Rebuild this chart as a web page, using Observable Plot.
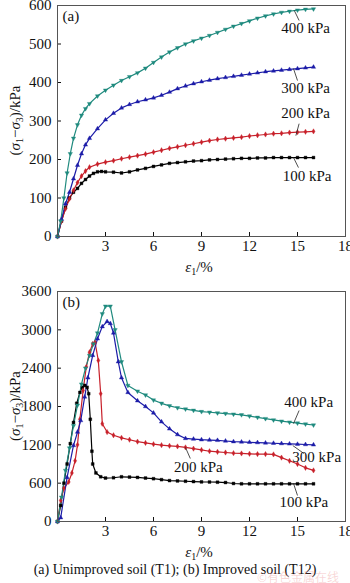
<!DOCTYPE html>
<html>
<head>
<meta charset="utf-8">
<script src="https://cdn.jsdelivr.net/npm/d3@7"></script>
<script src="https://cdn.jsdelivr.net/npm/@observablehq/plot@0.6"></script>
<style>
  body { margin: 0; background: #fff; }
  #wrap { position: relative; width: 350px; height: 583px; overflow: hidden; background: #fff; }
  #wrap svg { display: block; }
  #caption { position: absolute; left: 0; top: 562px; width: 350px; text-align: center;
    font-family: 'Liberation Serif', serif; font-size: 14px; color: #111; line-height: 16px; }
  #mark { position: absolute; left: 257px; top: 571px; font-family: 'Noto Sans CJK SC', sans-serif;
    font-size: 12px; color: rgba(225, 90, 90, 0.25); line-height: 12px; }
</style>
</head>
<body>
<div id="wrap"></div>
<script>
// ---------- data ----------
const pressures = ["100 kPa", "200 kPa", "300 kPa", "400 kPa"];
const colors = ["#000000", "#c8202a", "#1c1ca8", "#1f8a7e"];
const symbolRange = ["square", "diamond", "triangle", "triangle"];
const xTicks = [0, 3, 6, 9, 12, 15, 18];
const yTicksA = [0, 100, 200, 300, 400, 500, 600];
const yTicksB = [0, 600, 1200, 1800, 2400, 3000, 3600];

// Panel (a): unimproved soil
const a400x = [0,0.2,0.4,0.6,0.8,1,1.25,1.5,1.75,2,2.5,3,3.5,4,4.5,5,5.5,6,6.5,7,7.5,8,8.5,9,9.5,10,10.5,11,11.5,12,12.5,13,13.5,14,14.5,15,15.5,16];
const a400y = [0,40,100,165,215,255,290,315,332,345,365,380,393,405,415,425,437,452,466,479,490,500,508,515,522,530,538,546,553,560,567,573,578,582,585,588,590,591];
const a300x = [0,0.25,0.5,0.75,1,1.25,1.5,1.75,2,2.5,3,3.5,4,4.5,5,5.5,6,6.5,7,7.5,8,8.5,9,9.5,10,10.5,11,11.5,12,12.5,13,13.5,14,14.5,15,15.5,16];
const a300y = [0,45,85,115,150,185,215,238,255,280,303,320,334,343,350,355,360,367,375,384,391,397,402,406,410,413,416,419,422,425,428,430,432,434,436,438,440];
const a200x = [0,0.25,0.5,0.75,1,1.25,1.5,1.75,2,2.5,3,3.5,4,4.5,5,5.5,6,6.5,7,7.5,8,8.5,9,9.5,10,10.5,11,11.5,12,12.5,13,13.5,14,14.5,15,15.5,16];
const a200y = [0,40,72,98,120,140,157,170,180,188,193,197,202,206,210,214,219,224,229,233,237,241,245,249,252,254,256,258,261,263,265,267,268,270,271,272,273];
const a100x = [0,0.25,0.5,0.75,1,1.25,1.5,1.75,2,2.25,2.5,2.75,3,3.5,4,4.5,5,5.5,6,6.5,7,7.5,8,8.5,9,9.5,10,10.5,11,11.5,12,12.5,13,13.5,14,14.5,15,15.5,16];
const a100y = [0,40,75,100,115,125,138,148,157,164,168,169,168,167,165,168,173,177,182,186,190,192,194,196,197,199,200,201,202,203,203,204,204,205,205,205,205,205,205];

// Panel (b): improved soil
const b400x = [0,0.25,0.5,0.75,1,1.25,1.5,1.75,2,2.25,2.5,2.8,3,3.3,3.6,4,4.4,5,5.5,6,6.5,7,7.5,8,8.5,9,9.5,10,10.5,11,11.5,12,12.5,13,13.5,14,14.5,15,15.5,16];
const b400y = [0,380,800,1150,1500,1820,2150,2400,2600,2780,2950,3250,3370,3370,3000,2500,2130,2040,1980,1900,1850,1810,1780,1760,1740,1720,1710,1700,1690,1680,1670,1650,1630,1610,1590,1570,1555,1540,1525,1510];
const b300x = [0,0.2,0.6,1,1.25,1.45,1.7,1.9,2.2,2.5,2.8,3.1,3.3,3.5,3.8,4,4.4,5,5.5,6,6.5,7,7.5,8,8.5,9,9.5,10,10.5,11,11.5,12,12.5,13,13.5,14,14.5,15,15.5,16];
const b300y = [0,60,690,1190,1400,1580,1950,2250,2600,2860,3050,3130,3100,2950,2500,2250,2020,1890,1800,1700,1560,1450,1360,1300,1290,1280,1275,1270,1260,1250,1245,1240,1235,1230,1225,1220,1215,1210,1205,1200];
const b200x = [0,0.2,0.4,0.7,0.9,1.1,1.25,1.4,1.6,1.8,2,2.2,2.35,2.55,2.7,2.8,3.1,3.5,4,4.5,5,5.5,6,6.5,7,7.5,8,8.5,9,9.5,10,10.5,11,11.5,12,12.5,13,13.5,14,14.5,15,15.5,16];
const b200y = [0,330,520,620,760,950,1200,1600,2050,2420,2650,2780,2800,2520,2000,1530,1400,1350,1310,1280,1250,1230,1210,1195,1185,1175,1160,1140,1120,1100,1090,1080,1070,1065,1060,1055,1055,1050,1000,950,900,840,800];
const b100x = [0,0.2,0.4,0.6,0.8,1,1.2,1.4,1.55,1.7,1.85,1.95,2.05,2.15,2.2,2.4,2.7,3,3.5,4,4.5,5,5.5,6,6.5,7,7.5,8,8.5,9,9.5,10,10.5,11,11.5,12,12.5,13,13.5,14,14.5,15,15.5,16];
const b100y = [0,250,600,900,1220,1550,1850,2020,2100,2130,2100,2000,1600,1100,900,760,700,680,685,700,695,690,680,670,655,640,635,630,625,620,618,615,610,595,590,590,590,590,590,590,590,590,590,590];

// Annotation labels and leader lines (data units)
const labelTextA = ["400 kPa", "300 kPa", "200 kPa", "100 kPa"];
const labelXA = [15.5, 15.5, 15.5, 15.6];
const labelYA = [540, 384, 319, 156];
const leaderA = { x1: [14.8, 14.75, 14.9, 14.75], y1: [587, 436, 262, 205], x2: [15.1, 15.0, 15.1, 15.06], y2: [561, 405, 293, 179] };

const labelTextB = ["400 kPa", "300 kPa", "200 kPa", "100 kPa"];
const labelXB = [15.7, 16.2, 8.8, 15.4];
const labelYB = [1862, 1000, 845, 300];
const leaderB = { x1: [14.75, 14.7, 8.0, 14.75], y1: [1533, 1190, 1158, 595], x2: [15.1, 15.4, 8.3, 15.0], y2: [1737, 1064, 986, 407] };

// ---------- helpers ----------
function series(xs, ys, p) { return xs.map((x, i) => ({ x, y: ys[i], p })); }
function labels(texts, xs, ys) { return texts.map((t, i) => ({ t, x: xs[i], y: ys[i] })); }
function leaders(L) { return L.x1.map((_, i) => ({ x1: L.x1[i], y1: L.y1[i], x2: L.x2[i], y2: L.y2[i] })); }

const dataA = [].concat(series(a100x, a100y, "100 kPa"), series(a200x, a200y, "200 kPa"), series(a300x, a300y, "300 kPa"), series(a400x, a400y, "400 kPa"));
const dataB = [].concat(series(b100x, b100y, "100 kPa"), series(b200x, b200y, "200 kPa"), series(b300x, b300y, "300 kPa"), series(b400x, b400y, "400 kPa"));

const FONT = "'Liberation Serif', 'Times New Roman', serif";
const FS = 15;

function panel(data, yDomain, yTicks, labs, leads, tag, height, mt, mb) {
  const svg = Plot.plot({
    width: 350, height, marginTop: mt, marginBottom: mb, marginLeft: 57, marginRight: 5,
    style: { fontFamily: FONT, fontSize: FS + "px", background: "white", color: "#111", overflow: "visible" },
    x: { domain: [0, 18] },
    y: { domain: yDomain },
    color: { domain: pressures, range: colors },
    symbol: { domain: pressures, range: symbolRange },
    marks: [
      Plot.axisX({ ticks: xTicks.filter(t => t > 0), tickSize: 0, tickPadding: 4, tickFormat: d3.format("d"), label: null, fontSize: FS }),
      Plot.axisX({ ticks: xTicks, tickSize: -4, tickFormat: () => "", label: null }),
      Plot.axisY({ ticks: yTicks, tickSize: 0, tickPadding: 6, tickFormat: d3.format("d"), label: null, fontSize: FS }),
      Plot.axisY({ ticks: yTicks, tickSize: -4, tickFormat: () => "", label: null }),
      Plot.line(data, { x: "x", y: "y", z: "p", stroke: "p", strokeWidth: 1.2 }),
      Plot.dot(data, { x: "x", y: "y", fill: "p", stroke: "p", strokeWidth: 0.4, symbol: "p", r: 1.6,
        rotate: d => d.p === "400 kPa" ? 180 : 0 }),
      Plot.link(leads, { x1: "x1", y1: "y1", x2: "x2", y2: "y2", stroke: "#222", strokeWidth: 0.8 }),
      Plot.text(labs, { x: "x", y: "y", text: "t", fill: "#111", fontSize: FS }),
      Plot.text([tag], { frameAnchor: "top-left", text: d => d, dx: 5, dy: 5, textAnchor: "start", lineAnchor: "top", fontSize: FS, fill: "#111" }),
      Plot.frame({ stroke: "#555", strokeWidth: 1 })
    ]
  });
  const s = d3.select(svg);
  // y-axis title
  const yt = s.append("text")
    .attr("transform", `translate(20,${mt + (height - mt - mb) / 2}) rotate(-90)`)
    .attr("text-anchor", "middle").attr("font-family", FONT).attr("font-size", FS).attr("fill", "#111");
  yt.append("tspan").text("(");
  yt.append("tspan").attr("font-style", "italic").text("σ");
  yt.append("tspan").attr("font-size", 10).attr("dy", 3).text("1");
  yt.append("tspan").attr("dy", -3).text("−");
  yt.append("tspan").attr("font-style", "italic").text("σ");
  yt.append("tspan").attr("font-size", 10).attr("dy", 3).text("3");
  yt.append("tspan").attr("dy", -3).text(")/kPa");
  // x-axis title
  const xt = s.append("text")
    .attr("x", 57 + (350 - 57 - 5) / 2 - 2).attr("y", height - mb + 36)
    .attr("text-anchor", "middle").attr("font-family", FONT).attr("font-size", FS).attr("fill", "#111");
  xt.append("tspan").attr("font-style", "italic").text("ε");
  xt.append("tspan").attr("font-size", 10).attr("dy", 3).text("1");
  xt.append("tspan").attr("dy", -3).text("/%");
  return svg;
}

const wrap = document.getElementById("wrap");
wrap.appendChild(panel(dataA, [0, 600], yTicksA, labels(labelTextA, labelXA, labelYA), leaders(leaderA), "(a)", 282, 5, 46));
wrap.appendChild(panel(dataB, [0, 3600], yTicksB, labels(labelTextB, labelXB, labelYB), leaders(leaderB), "(b)", 280, 9, 41));

const cap = document.createElement("div");
cap.id = "caption";
cap.textContent = "(a) Unimproved soil (T1); (b) Improved soil (T12)";
wrap.appendChild(cap);
const wm = document.createElement("div");
wm.id = "mark";
wm.textContent = "©有色金属在线";
wrap.appendChild(wm);
</script>
</body>
</html>
